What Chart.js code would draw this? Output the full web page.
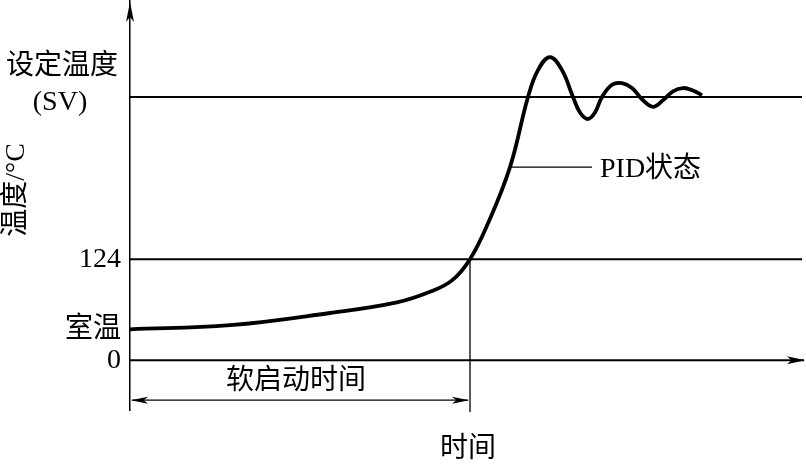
<!DOCTYPE html>
<html><head><meta charset="utf-8">
<style>html,body{margin:0;padding:0;background:#fff;}canvas{display:block;}</style>
<script src="https://cdn.jsdelivr.net/npm/chart.js@4/dist/chart.umd.min.js"></script>
</head><body>
<canvas id="c" width="806" height="465"></canvas>
<script>
// Time (arbitrary units) and temperature values
const timeValues = [0,100,200,267,300,322,340,358,380,398,408,420,432,443,450,458,465,472,482,492,502,513,523,533,543,553,563,572];
const tempValues = [38,43,58,71,84,98,124,168,237,323,356,372,356,323,304,296,304,323,338,340,334,319,311,319,330,334,331,325];
// Reference levels
const refLevels = [124, 323];          // 124 and set temperature SV
const roomTemp = 38;
const softStartEnd = 340;              // time where curve reaches 124
const pidLabelTime = 380;              // point on curve where PID label points
// Tick / text labels
const yTickLabels = [{v:0, t:'0'}, {v:38, t:'室温'}, {v:124, t:'124'}];
const svLabel = ['设定温度', '(SV)'];
const yTitle = '温度/°C';
const xTitle = '时间';
const softStartLabel = '软启动时间';
const pidLabel = 'PID状态';

const FONT = '28px "Liberation Serif", "Noto Sans CJK SC", serif';

function arrowHead(ctx, x, y, dir, len, half) {
  ctx.save();
  ctx.translate(x, y);
  ctx.rotate(dir);
  ctx.beginPath();
  ctx.moveTo(0, 0);
  ctx.lineTo(-len, -half);
  ctx.lineTo(-len * 0.75, 0);
  ctx.lineTo(-len, half);
  ctx.closePath();
  ctx.fill();
  ctx.restore();
}

const decor = {
  id: 'decor',
  beforeDatasetsDraw(chart) {
    const {ctx, chartArea: a, scales: {x, y}} = chart;
    ctx.save();
    ctx.strokeStyle = '#000';
    ctx.fillStyle = '#000';
    // x axis at 0 with arrow
    const y0 = y.getPixelForValue(0);
    ctx.lineWidth = 2;
    ctx.beginPath(); ctx.moveTo(a.left, y0); ctx.lineTo(a.right - 2, y0); ctx.stroke();
    arrowHead(ctx, a.right - 1, y0, 0, 18, 4);
    // y axis arrow
    arrowHead(ctx, a.left, a.top + 2, -Math.PI / 2, 20, 4);
    // reference horizontal lines
    ctx.lineWidth = 2;
    refLevels.forEach(v => {
      const py = y.getPixelForValue(v);
      ctx.beginPath(); ctx.moveTo(a.left, py); ctx.lineTo(a.right - 4, py); ctx.stroke();
    });
    // soft start vertical line
    const xs = x.getPixelForValue(softStartEnd);
    ctx.lineWidth = 1.3;
    ctx.beginPath(); ctx.moveTo(xs, y.getPixelForValue(124)); ctx.lineTo(xs, a.bottom + 2); ctx.stroke();
    // soft start arrow
    const ya = y.getPixelForValue(-49);
    ctx.lineWidth = 1.3;
    ctx.beginPath(); ctx.moveTo(a.left + 2, ya); ctx.lineTo(xs - 2, ya); ctx.stroke();
    arrowHead(ctx, a.left + 1, ya, Math.PI, 17, 3.5);
    arrowHead(ctx, xs - 1, ya, 0, 17, 3.5);
    // PID leader line
    const pidIdx = timeValues.indexOf(pidLabelTime);
    const px = x.getPixelForValue(pidLabelTime), py = y.getPixelForValue(tempValues[pidIdx]);
    ctx.lineWidth = 1.3;
    ctx.beginPath(); ctx.moveTo(px, py); ctx.lineTo(px + 82, py); ctx.stroke();

    // texts
    ctx.font = FONT;
    ctx.textBaseline = 'middle';
    ctx.textAlign = 'left';
    ctx.fillText(pidLabel, px + 90, py + 3);
    ctx.textAlign = 'right';
    yTickLabels.forEach(o => ctx.fillText(o.t, a.left - 9, y.getPixelForValue(o.v)));
    const ysv = y.getPixelForValue(refLevels[1]);
    ctx.textAlign = 'center';
    ctx.fillText(svLabel[0], 62, ysv - 30);
    ctx.fillText(svLabel[1], 60, ysv + 6);
    ctx.fillText(softStartLabel, (a.left + xs) / 2 - 4, ya - 19);
    ctx.fillText(xTitle, x.getPixelForValue(338), 450);
    ctx.save();
    ctx.translate(17, 190);
    ctx.rotate(-Math.PI / 2);
    ctx.fillText(yTitle, 0, 0);
    ctx.restore();
    ctx.restore();
  }
};

new Chart(document.getElementById('c'), {
  type: 'line',
  data: {
    datasets: [{
      data: timeValues.map((t, i) => ({x: t, y: tempValues[i]})),
      borderColor: '#000',
      borderWidth: 3.8,
      pointRadius: 0,
      tension: 0.4,
      fill: false
    }]
  },
  options: {
    responsive: false,
    animation: false,
    devicePixelRatio: 1,
    layout: {padding: {left: 130, top: 0, right: 0, bottom: 55}},
    plugins: {legend: {display: false}, tooltip: {enabled: false}},
    scales: {
      x: {type: 'linear', min: 0, max: 676, display: false},
      y: {
        type: 'linear', min: -61, max: 442,
        ticks: {display: false},
        grid: {display: false, drawTicks: false},
        border: {display: true, color: '#000', width: 1.5}
      }
    }
  },
  plugins: [decor]
});
</script>
</body></html>
